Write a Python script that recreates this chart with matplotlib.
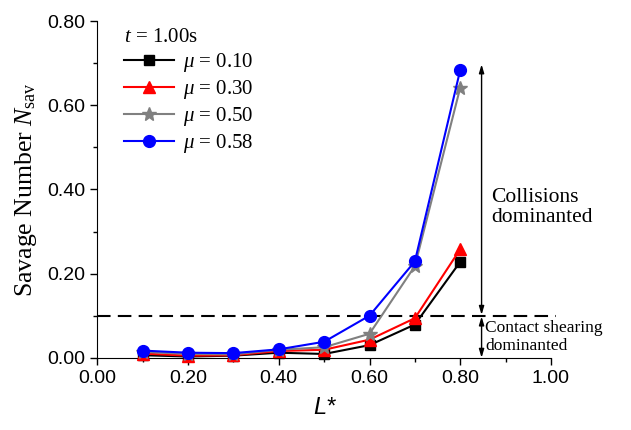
import matplotlib
matplotlib.use("Agg")
import matplotlib.pyplot as plt
from matplotlib.ticker import MultipleLocator, FormatStrFormatter

# Data
L_STAR = [0.1, 0.2, 0.3, 0.4, 0.5, 0.6, 0.7, 0.8]
NSAV_MU010 = [0.006, 0.003, 0.005, 0.012, 0.009, 0.030, 0.079, 0.228]
NSAV_MU030 = [0.010, 0.005, 0.006, 0.016, 0.019, 0.043, 0.094, 0.258]
NSAV_MU050 = [0.014, 0.009, 0.008, 0.019, 0.025, 0.057, 0.218, 0.642]
NSAV_MU058 = [0.017, 0.012, 0.011, 0.020, 0.038, 0.100, 0.229, 0.684]
SERIES_LABELS = [r"$\mu$ = 0.10", r"$\mu$ = 0.30", r"$\mu$ = 0.50", r"$\mu$ = 0.58"]
THRESHOLD = 0.1

plt.rcParams["mathtext.fontset"] = "custom"
plt.rcParams["mathtext.rm"] = "Liberation Serif"
plt.rcParams["mathtext.it"] = "Liberation Serif:italic"
plt.rcParams["font.family"] = "Liberation Sans"

fig = plt.figure(figsize=(6.31, 4.30), dpi=100)
ax = fig.add_axes([0.1542, 0.168, 0.719, 0.783])

styles = [
    ("black", "s", 7),
    ("red", "^", 8),
    ("gray", "*", 10.5),
    ("blue", "o", 8.5),
]
all_series = [NSAV_MU010, NSAV_MU030, NSAV_MU050, NSAV_MU058]
for vals, lab, (col, mk, ms) in zip(all_series, SERIES_LABELS, styles):
    ax.plot(L_STAR, vals, color=col, marker=mk, markersize=ms, lw=1.5,
            label=lab, clip_on=False, zorder=3)

# threshold line
ax.plot([0, 1.01], [THRESHOLD, THRESHOLD], color="black", lw=1.5,
        dashes=(6.5, 3.5), clip_on=False, zorder=2)

# regime arrows
arrow = dict(arrowstyle="<|-|>,head_width=0.15,head_length=0.5",
             color="black", lw=1, shrinkA=0, shrinkB=0)
ax.annotate("", xy=(0.847, 0.697), xytext=(0.847, THRESHOLD + 0.002),
            arrowprops=arrow)
ax.annotate("", xy=(0.847, 0.0), xytext=(0.847, THRESHOLD - 0.002),
            arrowprops=arrow)
ax.text(0.868, 0.357, "Collisions\ndominanted", family="Liberation Serif",
        fontsize=15.5, va="center", ha="left", linespacing=1.1)
ax.text(0.855, 0.05, "Contact shearing\ndominanted", family="Liberation Serif",
        fontsize=12.5, va="center", ha="left", linespacing=1.2)

ax.set_xlim(0, 1.0)
ax.set_ylim(0, 0.8)
ax.xaxis.set_major_locator(MultipleLocator(0.2))
ax.xaxis.set_minor_locator(MultipleLocator(0.1))
ax.yaxis.set_major_locator(MultipleLocator(0.2))
ax.yaxis.set_minor_locator(MultipleLocator(0.1))
ax.xaxis.set_major_formatter(FormatStrFormatter("%.2f"))
ax.yaxis.set_major_formatter(FormatStrFormatter("%.2f"))
ax.tick_params(which="major", direction="out", length=5, width=1, labelsize=14)
ax.tick_params(which="minor", direction="out", length=3, width=1)
for s in ["top", "right"]:
    ax.spines[s].set_visible(False)

ax.set_xlabel("L*", fontsize=17, fontstyle="italic", labelpad=7)
ax.set_ylabel(r"Savage Number $N_{\rm sav}$", family="Liberation Serif",
              fontsize=18.5, labelpad=6)

leg = ax.legend(loc="upper left", bbox_to_anchor=(0.04, 1.005), frameon=False,
                title=r"$t$ = 1.00s", handlelength=2.4, handletextpad=0.45,
                labelspacing=0.2, borderaxespad=0,
                prop={"family": "Liberation Serif", "size": 15})
leg.get_title().set_fontsize(15)
leg.get_title().set_family("Liberation Serif")
leg._legend_box.align = "left"

fig.savefig("out.png", dpi=100)
